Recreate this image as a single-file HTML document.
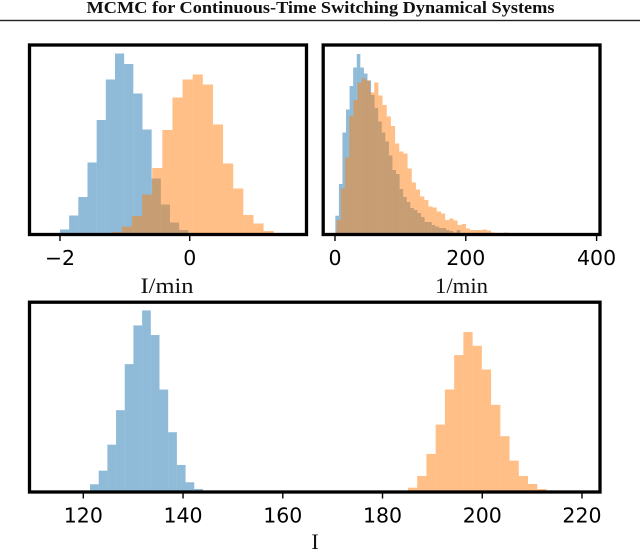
<!DOCTYPE html>
<html lang="en">
<head>
<meta charset="utf-8">
<title>MCMC for Continuous-Time Switching Dynamical Systems</title>
<style>
html,body{margin:0;padding:0;background:#fff;width:640px;height:550px;overflow:hidden}
svg{display:block;filter:blur(0.35px)}
.tick-text{font-family:"DejaVu Sans",sans-serif;font-size:20.5px;fill:#000;text-anchor:middle}
.axis-title{font-family:"Liberation Serif",serif;font-size:22px;fill:#111;text-anchor:middle}
</style>
</head>
<body>
<svg id="figure" xmlns="http://www.w3.org/2000/svg" width="640" height="550" viewBox="0 0 640 550">
  <rect x="0" y="0" width="640" height="550" fill="#fff"/>
  <text x="320.5" y="13" text-anchor="middle" textLength="468" lengthAdjust="spacingAndGlyphs" font-family="'Liberation Serif',serif" font-weight="bold" font-size="17" fill="#111">MCMC for Continuous-Time Switching Dynamical Systems</text>
  <rect x="0" y="19.8" width="640" height="1.4" fill="#222"/>
  <text class="axis-title" x="167" y="293" textLength="53" lengthAdjust="spacingAndGlyphs">I/min</text>
  <text class="axis-title" x="461.5" y="293" textLength="53" lengthAdjust="spacingAndGlyphs">1/min</text>
  <text class="axis-title" x="315" y="549">I</text>
</svg>
<script>
// Panel 1: I/min
const minBlueStart = -2.0;
const minBlueWidth = 0.1413;
const minBlueValues = [5, 19, 37.5, 72, 114.5, 155, 181, 170.5, 141, 105, 56, 30, 12, 4.5];
const minOrangeStart = -1.203;
const minOrangeWidth = 0.1561;
const minOrangeValues = [2.5, 8, 18.5, 40, 66.5, 104.5, 137, 155, 160, 150, 110, 71, 46, 19.5, 11, 3.5];
const minTicks = [-2, 0];
const minTickLabels = ['\u22122', '0'];

// Panel 2: 1/min
const rateBlueStart = 0.5;
const rateBlueWidth = 5.46;
const rateBlueValues = [18.8, 50.5, 102, 125, 148.5, 167, 180.5, 167, 161, 154, 139.5, 126.5, 113, 102, 93, 79, 64.5, 60.5, 45.5, 37.5, 32.5, 26.5, 24.5, 21.5, 17.5, 12.5, 12.5, 9.5, 8, 6.5, 6.5, 4.5, 3.5, 2, 4.5, 1.5, 1, 0.5];
const rateOrangeStart = 2.6;
const rateOrangeWidth = 6.375;
const rateOrangeValues = [14.5, 46, 77, 118.5, 134.5, 152, 156, 154, 142, 152, 139, 129.5, 118, 108.5, 91, 83, 81, 66, 52, 45, 38, 34.5, 28, 27, 23, 21, 14.5, 16, 14, 9.5, 10.5, 6, 4.5, 4.5, 4.5, 5, 4, 2, 1.5, 1.5, 2];
const rateTicks = [0, 200, 400];
const rateTickLabels = ['0', '200', '400'];

// Panel 3: I
const ampBlueStart = 119.6;
const ampBlueWidth = 1.742;
const ampBlueValues = [1, 7.7, 21.3, 47.3, 81.7, 127.7, 166.3, 181.3, 156.7, 102.3, 59.7, 27, 9.7, 3];
const ampOrangeStart = 183.25;
const ampOrangeWidth = 1.852;
const ampOrangeValues = [1, 4.3, 16, 38, 67.3, 102.3, 136.7, 159.7, 146, 122.3, 87, 55.7, 31.3, 16, 8, 3];
const ampTicks = [120, 140, 160, 180, 200, 220];
const ampTickLabels = ['120', '140', '160', '180', '200', '220'];

const SVG_NS = 'http://www.w3.org/2000/svg';
const svg = document.getElementById('figure');
const Y_MAX = 189.5;

function make(tag, attrs) {
  const el = document.createElementNS(SVG_NS, tag);
  Object.keys(attrs).forEach(function (k) { el.setAttribute(k, attrs[k]); });
  return el;
}

function xScale(box, domain) {
  return function (v) {
    return box.left + (v - domain[0]) / (domain[1] - domain[0]) * (box.right - box.left);
  };
}

function yScale(box) {
  return function (v) {
    return box.bottom - v / Y_MAX * (box.bottom - box.top);
  };
}

function drawSeries(group, x, y, start, width, values, color, name) {
  values.forEach(function (v, i) {
    const x0 = x(start + i * width);
    const x1 = x(start + (i + 1) * width);
    const bar = make('rect', {
      x: x0, y: y(v), width: x1 - x0, height: y(0) - y(v),
      fill: color, 'fill-opacity': 0.5
    });
    
    
    group.appendChild(bar);
  });
}

function drawPanel(cfg) {
  const x = xScale(cfg.box, cfg.domain);
  const y = yScale(cfg.box);
  const group = make('g', {});
  
  
  svg.appendChild(group);

  drawSeries(group, x, y, cfg.blue[0], cfg.blue[1], cfg.blue[2], '#1f77b4', cfg.name + '-blue');
  drawSeries(group, x, y, cfg.orange[0], cfg.orange[1], cfg.orange[2], '#ff7f0e', cfg.name + '-orange');

  const frame = make('rect', {
    x: cfg.box.left, y: cfg.box.top,
    width: cfg.box.right - cfg.box.left, height: cfg.box.bottom - cfg.box.top,
    fill: 'none', stroke: '#000', 'stroke-width': 3.3
  });
  
  
  group.appendChild(frame);

  cfg.ticks.forEach(function (t, i) {
    const tick = make('line', {
      x1: x(t), x2: x(t), y1: cfg.box.bottom + 1.5, y2: cfg.box.bottom + 6.5,
      stroke: '#000', 'stroke-width': 1.4
    });
    
    
    group.appendChild(tick);

    const label = make('text', { x: x(t), y: cfg.box.bottom + 30.6, class: 'tick-text' });
    
    
    label.textContent = cfg.labels[i];
    group.appendChild(label);
  });
}

drawPanel({
  name: 'panel-i-min',
  box: { left: 29.5, right: 306.5, top: 45, bottom: 234.5 },
  domain: [-2.47, 1.80],
  blue: [minBlueStart, minBlueWidth, minBlueValues],
  orange: [minOrangeStart, minOrangeWidth, minOrangeValues],
  ticks: minTicks,
  labels: minTickLabels
});

drawPanel({
  name: 'panel-one-min',
  box: { left: 323.2, right: 600, top: 45, bottom: 234.5 },
  domain: [-18.04, 405.2],
  blue: [rateBlueStart, rateBlueWidth, rateBlueValues],
  orange: [rateOrangeStart, rateOrangeWidth, rateOrangeValues],
  ticks: rateTicks,
  labels: rateTickLabels
});

drawPanel({
  name: 'panel-i',
  box: { left: 29.5, right: 600, top: 302.2, bottom: 492 },
  domain: [109.21, 223.61],
  blue: [ampBlueStart, ampBlueWidth, ampBlueValues],
  orange: [ampOrangeStart, ampOrangeWidth, ampOrangeValues],
  ticks: ampTicks,
  labels: ampTickLabels
});
</script>
</body>
</html>
